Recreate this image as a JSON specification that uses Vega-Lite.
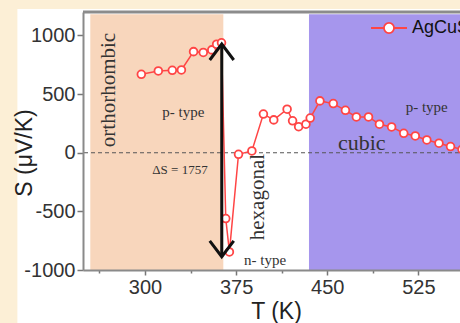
{
  "$schema": "https://vega.github.io/schema/vega-lite/v6.json",
  "width": 390,
  "height": 258,
  "autosize": {"type": "none"},
  "padding": {"left": 83, "top": 12, "right": 0, "bottom": 53},
  "background": "#fcefd6",
  "config": {
    "view": {"stroke": null},
    "axis": {
      "grid": false,
      "domainColor": "#8a8a8a",
      "domainWidth": 2,
      "tickColor": "#777777",
      "tickWidth": 1.5,
      "labelFont": "Liberation Sans",
      "labelFontSize": 20,
      "labelColor": "#333333",
      "titleFont": "Liberation Sans",
      "titleFontSize": 23,
      "titleFontWeight": "normal",
      "titleColor": "#222222"
    }
  },
  "data": {"values": [{}]},
  "datasets": {
    "seebeck": [
      {"T": 297, "S": 669, "series": "AgCuS"},
      {"T": 311, "S": 697, "series": "AgCuS"},
      {"T": 322.5, "S": 703, "series": "AgCuS"},
      {"T": 330, "S": 706, "series": "AgCuS"},
      {"T": 340, "S": 862, "series": "AgCuS"},
      {"T": 348, "S": 855, "series": "AgCuS"},
      {"T": 355, "S": 877, "series": "AgCuS"},
      {"T": 359, "S": 925, "series": "AgCuS"},
      {"T": 363, "S": 937, "series": "AgCuS"},
      {"T": 366.5, "S": -561, "series": "AgCuS"},
      {"T": 369.5, "S": -846, "series": "AgCuS"},
      {"T": 377, "S": -13, "series": "AgCuS"},
      {"T": 388, "S": 15, "series": "AgCuS"},
      {"T": 397.5, "S": 330, "series": "AgCuS"},
      {"T": 406, "S": 280, "series": "AgCuS"},
      {"T": 417, "S": 371, "series": "AgCuS"},
      {"T": 421.5, "S": 272, "series": "AgCuS"},
      {"T": 426.5, "S": 222, "series": "AgCuS"},
      {"T": 432.5, "S": 243, "series": "AgCuS"},
      {"T": 436, "S": 296, "series": "AgCuS"},
      {"T": 444, "S": 442, "series": "AgCuS"},
      {"T": 455, "S": 419, "series": "AgCuS"},
      {"T": 465, "S": 362, "series": "AgCuS"},
      {"T": 474, "S": 305, "series": "AgCuS"},
      {"T": 484, "S": 305, "series": "AgCuS"},
      {"T": 493, "S": 243, "series": "AgCuS"},
      {"T": 503, "S": 220, "series": "AgCuS"},
      {"T": 513, "S": 166, "series": "AgCuS"},
      {"T": 522.5, "S": 143, "series": "AgCuS"},
      {"T": 532, "S": 109, "series": "AgCuS"},
      {"T": 542, "S": 81, "series": "AgCuS"},
      {"T": 551.5, "S": 53, "series": "AgCuS"},
      {"T": 561, "S": 28, "series": "AgCuS"}
    ]
  },
  "layer": [
    {
      "mark": {"type": "rect", "color": "white", "clip": false},
      "encoding": {
        "x": {"datum": 195},
        "x2": {"datum": 700},
        "y": {"datum": 1225},
        "y2": {"datum": -1600}
      }
    },
    {
      "mark": {"type": "rect", "color": "#f8d6bc"},
      "encoding": {
        "x": {"datum": 255},
        "x2": {"datum": 364.5},
        "y": {"datum": 1180},
        "y2": {"datum": -1000}
      }
    },
    {
      "mark": {"type": "rect", "color": "#a696ed"},
      "encoding": {
        "x": {"datum": 435},
        "x2": {"datum": 570},
        "y": {"datum": 1180},
        "y2": {"datum": -1000}
      }
    },
    {
      "mark": {"type": "rule", "color": "#555555", "strokeDash": [4, 3], "strokeWidth": 1.2},
      "encoding": {"y": {"datum": 0}}
    },
    {
      "data": {"name": "seebeck"},
      "mark": {
        "type": "line",
        "strokeWidth": 1.5,
        "point": {"filled": false, "fill": "white", "size": 60, "strokeWidth": 1.8}
      },
      "encoding": {
        "x": {
          "field": "T",
          "type": "quantitative",
          "scale": {"domain": [249, 570], "nice": false, "zero": false},
          "axis": {
            "zindex": 1,
            "values": [262.5, 300, 337.5, 375, 412.5, 450, 487.5, 525, 562.5],
            "format": "d",
            "labelExpr": "datum.value % 75 === 0 ? datum.label : ''",
            "tickSize": {"condition": {"test": "datum.value % 75 === 0", "value": 5}, "value": 3},
            "labelPadding": 2,
            "title": "T (K)",
            "titleX": 193,
            "titleY": 41.7,
            "titleAlign": "center",
            "titleBaseline": "middle"
          }
        },
        "y": {
          "field": "S",
          "type": "quantitative",
          "scale": {"domain": [-1000, 1200], "nice": false, "zero": false},
          "axis": {
            "zindex": 1,
            "values": [-1000, -750, -500, -250, 0, 250, 500, 750, 1000],
            "format": "d",
            "labelExpr": "datum.value % 500 === 0 ? replace(datum.label, '−', '-') : ''",
            "tickSize": {"condition": {"test": "datum.value % 500 === 0", "value": 6}, "value": 3},
            "labelPadding": 2,
            "title": "S (μV/K)",
            "titleX": -59,
            "titleY": 140.5,
            "titleAngle": -90,
            "titleAlign": "center",
            "titleBaseline": "middle"
          }
        },
        "color": {
          "field": "series",
          "type": "nominal",
          "scale": {"range": ["#ff4545"]},
          "legend": {
            "title": null,
            "orient": "none",
            "legendX": 287,
            "legendY": -3,
            "padding": 0,
            "symbolType": "M-1,0L-0.28,0M0.28,0L1,0M0.28,0A0.28,0.28,0,1,1,-0.28,0A0.28,0.28,0,1,1,0.28,0",
            "symbolSize": 1296,
            "symbolStrokeWidth": 1.8,
            "symbolFillColor": "white",
            "labelFont": "Liberation Sans",
            "labelFontSize": 18,
            "labelColor": "#111111",
            "labelOffset": 4,
            "encode": {"symbols": {"update": {"fill": {"value": "white"}}}}
          }
        }
      }
    },
    {
      "mark": {"type": "rule", "color": "#111111", "strokeWidth": 3},
      "encoding": {
        "x": {"datum": 363.2},
        "y": {"datum": 927},
        "y2": {"datum": -887}
      }
    },
    {
      "mark": {"type": "point", "shape": "M-1,1.33L0,0L1,1.33", "filled": false, "color": "#111111", "strokeWidth": 3, "size": 576, "opacity": 1},
      "encoding": {"x": {"datum": 363.2}, "y": {"datum": 927}}
    },
    {
      "mark": {"type": "point", "shape": "M-1,-1.33L0,0L1,-1.33", "filled": false, "color": "#111111", "strokeWidth": 3, "size": 576, "opacity": 1},
      "encoding": {"x": {"datum": 363.2}, "y": {"datum": -887}}
    },
    {
      "mark": {"type": "text", "text": "orthorhombic", "angle": 270, "font": "Liberation Serif", "fontSize": 21, "color": "#333333", "align": "center", "baseline": "middle"},
      "encoding": {"x": {"datum": 270.4}, "y": {"datum": 535}}
    },
    {
      "mark": {"type": "text", "text": "hexagonal", "angle": 270, "font": "Liberation Serif", "fontSize": 21, "color": "#333333", "align": "center", "baseline": "middle"},
      "encoding": {"x": {"datum": 393}, "y": {"datum": -378}}
    },
    {
      "mark": {"type": "text", "text": "cubic", "font": "Liberation Serif", "fontSize": 22, "color": "#333333", "align": "center", "baseline": "middle"},
      "encoding": {"x": {"datum": 478.4}, "y": {"datum": 80}}
    },
    {
      "mark": {"type": "text", "text": "p- type", "font": "Liberation Serif", "fontSize": 15, "color": "#333333", "align": "center", "baseline": "middle"},
      "encoding": {"x": {"datum": 331.6}, "y": {"datum": 350}}
    },
    {
      "mark": {"type": "text", "text": "p- type", "font": "Liberation Serif", "fontSize": 15, "color": "#333333", "align": "center", "baseline": "middle"},
      "encoding": {"x": {"datum": 531.9}, "y": {"datum": 392}}
    },
    {
      "mark": {"type": "text", "text": "n- type", "font": "Liberation Serif", "fontSize": 15, "color": "#333333", "align": "center", "baseline": "middle"},
      "encoding": {"x": {"datum": 398.8}, "y": {"datum": -915}}
    },
    {
      "mark": {"type": "text", "text": "ΔS = 1757", "font": "Liberation Serif", "fontSize": 13, "color": "#333333", "align": "center", "baseline": "middle"},
      "encoding": {"x": {"datum": 328.8}, "y": {"datum": -147}}
    },
    {
      "mark": {"type": "rule", "color": "#8c8c8c", "strokeWidth": 3, "clip": false},
      "encoding": {"y": {"datum": 1200}}
    }
  ]
}
